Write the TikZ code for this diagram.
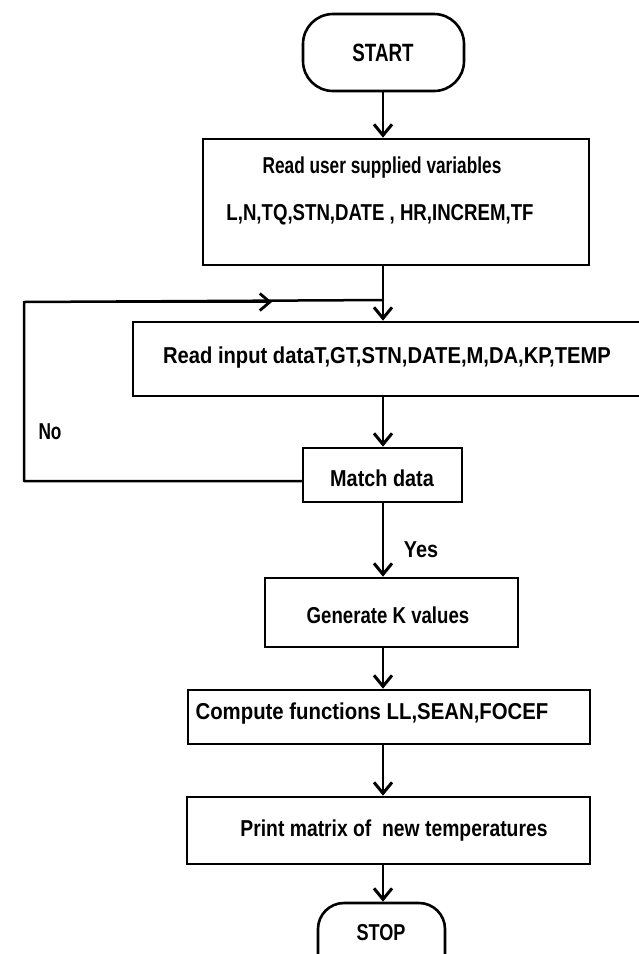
\documentclass[tikz,border=0pt]{standalone}
\usepackage{fontspec}
\setmainfont{Liberation Sans}[FakeStretch=0.75]
\usetikzlibrary{arrows.meta,calc}

% horizontally widened text
\newcommand{\wide}[2]{\scalebox{#1}[1]{#2}}

\begin{document}
\begin{tikzpicture}[x=1pt,y=-1pt,
  box/.style={draw, line width=2.6pt, rectangle, inner sep=0pt},
  terminal/.style={box, rounded corners=30pt},
  lbl/.style={font=\bfseries\fontsize{23}{26}\selectfont, inner sep=0pt},
  biglbl/.style={font=\bfseries\fontsize{25}{28}\selectfont, inner sep=0pt},
  link/.style={line width=2.5pt, line cap=round, line join=round},
  flow/.style={link, -{Straight Barb[length=11pt,width=18pt,line width=3pt]}},
  midtip/.style={link, -{Straight Barb[length=10pt,width=17pt,line width=2.8pt]}}]

\useasboundingbox (0,0) rectangle (639,954);
\clip (0,0) rectangle (639,954);

% x position of the main vertical flow line
\coordinate (spine) at (383,0);

% boxes
\node[terminal, minimum width=161pt, minimum height=77pt] (start) at (383.5,52.5) {};
\node[box, minimum width=386pt, minimum height=126pt] (userbox) at (396,202) {};
\node[box, minimum width=527pt, minimum height=74pt] (inbox) at (396.5,359) {};
\node[box, minimum width=159pt, minimum height=54pt] (match) at (382.5,475) {};
\node[box, minimum width=253pt, minimum height=69pt] (gen) at (391.5,612.5) {};
\node[box, minimum width=402pt, minimum height=54pt] (comp) at (389,717) {};
\node[box, minimum width=403pt, minimum height=67pt] (print) at (388.5,830.5) {};
\node[terminal, rounded corners=26pt, minimum width=127pt, minimum height=90pt] (stop) at (381.5,948) {};

% texts
\node[biglbl] (starttxt) at (383,53) {START};
\node[lbl] (usertxta) at (382,168) {Read user supplied variables};
\node[lbl] (usertxtb) at (380,215) {\wide{1.08}{L,N,TQ,STN,DATE , HR,INCREM,TF}};
\node[lbl] (intxt) at (387,358) {\wide{1.17}{Read input dataT,GT,STN,DATE,M,DA,KP,TEMP}};
\node[lbl] (matchtxt) at (382,478) {\wide{1.15}{Match data}};
\node[lbl] (gentxt) at (388,615) {\wide{1.08}{Generate K values}};
\node[lbl] (comptxt) at (372,714) {\wide{1.18}{Compute functions LL,SEAN,FOCEF}};
\node[lbl] (printtxt) at (394,831) {\wide{1.12}{Print matrix of \ new temperatures}};
\node[biglbl, font=\bfseries\fontsize{23}{26}\selectfont] (stoptxt) at (381,933) {\wide{1.05}{STOP}};
\node[lbl] (notxt) at (50,432) {No};
\node[lbl] (yestxt) at (421,550) {\wide{1.15}{Yes}};

% main flow
\draw[flow] (start.south -| spine) -- (userbox.north -| spine);
\coordinate (join) at ($(userbox.south -| spine)!0.62!(inbox.north -| spine)$);
\draw[flow] (userbox.south -| spine) -- (inbox.north -| spine);
\draw[flow] (inbox.south -| spine) -- (match.north -| spine);
\draw[flow] (match.south -| spine) -- (gen.north -| spine);
\draw[flow] (gen.south -| spine) -- (comp.north -| spine);
\draw[flow] (comp.south -| spine) -- (print.north -| spine);
\draw[flow] (print.south -| spine) -- (stop.north -| spine);

% "No" branch back to the input step
\coordinate (loopbl) at (24,481);
\coordinate (looptl) at (24,302);
\coordinate (loopmid) at (272,302);
\draw[link] (match.west |- loopbl) -- (loopbl) -- (looptl) -- (join);
\draw[midtip] (looptl) -- (loopmid);
\end{tikzpicture}
\end{document}
